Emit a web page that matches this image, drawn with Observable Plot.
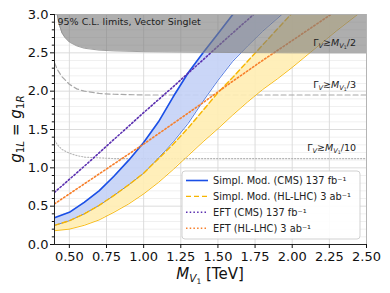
<!DOCTYPE html>
<html><head><meta charset="utf-8">
<script src="https://cdn.jsdelivr.net/npm/d3@7"></script>
<script src="https://cdn.jsdelivr.net/npm/@observablehq/plot@0.6"></script>
<style>
html,body{margin:0;padding:0;background:#fff;}
#chart{width:390px;height:293px;}
svg{font-family:"DejaVu Sans",sans-serif;}
</style></head><body><div id="chart"></div>
<script>
// ---- ticks ----
const xTicks = [0.5, 0.75, 1.0, 1.25, 1.5, 1.75, 2.0, 2.25, 2.5];
const yTicks = [0, 0.5, 1.0, 1.5, 2.0, 2.5, 3.0];
const yMinor = [0.1,0.2,0.3,0.4,0.6,0.7,0.8,0.9,1.1,1.2,1.3,1.4,1.6,1.7,1.8,1.9,2.1,2.2,2.3,2.4,2.6,2.7,2.8,2.9];

// ---- Simplified model CMS 137 fb^-1 band (blue) ----
const blueX     = [0.4, 0.5, 0.6, 0.7, 0.8, 0.9, 1.0, 1.1, 1.2, 1.3, 1.4, 1.5, 1.6, 1.7, 1.8, 1.93];
const blueUpper = [0.35,0.42,0.55,0.70,0.89,1.10,1.33,1.60,1.93,2.24,2.50,2.75,3.00,3.24,3.48,3.80];
const blueLower = [0.25,0.31,0.40,0.51,0.64,0.78,0.93,1.13,1.34,1.58,1.87,2.14,2.39,2.59,2.78,3.00];

// ---- Simplified model HL-LHC 3 ab^-1 band (yellow) ----
const yelX     = [0.4, 0.5, 0.6, 0.7, 0.8, 0.9, 1.0, 1.1, 1.2, 1.3, 1.4, 1.5, 1.6, 1.7, 1.8, 1.9, 2.0, 2.1, 2.2, 2.3, 2.44];
const yelUpper = [0.25,0.31,0.40,0.51,0.64,0.78,0.93,1.12,1.31,1.52,1.75,1.98,2.18,2.39,2.60,2.81,3.02,3.23,3.44,3.65,3.94];
const yelLower = [0.18,0.20,0.25,0.32,0.42,0.53,0.66,0.81,0.98,1.16,1.34,1.51,1.69,1.86,2.02,2.16,2.31,2.47,2.63,2.79,3.00];

// ---- EFT lines ----
const eftCmsX = [0.4, 0.6, 0.8, 1.0, 1.2, 1.4, 1.6, 1.74];
const eftCmsY = [0.68,1.02,1.37,1.72,2.06,2.41,2.76,3.00];
const eftHlX  = [0.4, 0.6, 0.8, 1.0, 1.2, 1.4, 1.6, 1.8, 2.0, 2.26];
const eftHlY  = [0.53,0.79,1.05,1.31,1.58,1.85,2.13,2.40,2.66,3.00];

// ---- width contours ----
const gamma2X = [0.418,0.43,0.45,0.47,0.5,0.55,0.6,0.7,0.8,1.0,1.5,2.0,2.5];
const gamma2Y = [3.0,2.88,2.76,2.70,2.64,2.59,2.56,2.535,2.525,2.515,2.505,2.5,2.5];
const gamma3X = [0.4,0.42,0.45,0.5,0.55,0.6,0.7,0.8,1.0,1.5,2.5];
const gamma3Y = [2.37,2.28,2.19,2.09,2.03,2.00,1.97,1.96,1.95,1.95,1.95];
const gamma10X = [0.4,0.42,0.45,0.5,0.55,0.6,0.7,0.8,1.0,2.5];
const gamma10Y = [1.36,1.30,1.24,1.19,1.16,1.14,1.13,1.12,1.12,1.12];
const gammaLabelDen = ["2", "3", "10"];
const gammaLabelY = [2.63, 2.08, 1.26];
const gammaLabelX = 2.43;

const titleText = "95% C.L. limits, Vector Singlet";
const legendLabels = ["Simpl. Mod. (CMS) 137 fb\u207B\u00B9", "Simpl. Mod. (HL-LHC) 3 ab\u207B\u00B9", "EFT (CMS) 137 fb\u207B\u00B9", "EFT (HL-LHC) 3 ab\u207B\u00B9"];

// colours
const cBlue = "#1a4fe6", cBlueThin = "#4670e0", cBlueFill = "#c4d1f6";
const cYel = "#f7b500", cYelFill = "#ffedb3";
const cPurple = "#5a2fb0", cOrange = "#f77f2a";
const legendStyles = [
  {stroke: cBlue, dash: null, w: 1.6},
  {stroke: cYel, dash: "5,3", w: 1.4},
  {stroke: cPurple, dash: "1.5,2.2", w: 1.6},
  {stroke: cOrange, dash: "1.5,2.2", w: 1.6}
];

const zip = (xs, ...cols) => xs.map((x, i) => ({x, a: cols[0][i], b: cols[1] ? cols[1][i] : undefined}));
const blue = zip(blueX, blueLower, blueUpper);
const yel = zip(yelX, yelLower, yelUpper);
const eftC = zip(eftCmsX, eftCmsY);
const eftH = zip(eftHlX, eftHlY);
const g2 = zip(gamma2X, gamma2Y);
const g3 = zip(gamma3X, gamma3Y);
const g10 = zip(gamma10X, gamma10Y);
const gLabels = gammaLabelDen.map((d, i) => ({d, y: gammaLabelY[i], t: "\u0393V\u2273MV1/" + d}));

const plot = Plot.plot({
  width: 390, height: 293,
  marginLeft: 54, marginRight: 24, marginTop: 14, marginBottom: 49,
  style: {fontFamily: "DejaVu Sans, sans-serif", fontSize: "13px", color: "#111", background: "#fff", overflow: "visible"},
  x: {domain: [0.4, 2.5]},
  y: {domain: [0, 3]},
  marks: [
    Plot.gridY(yMinor, {stroke: "#ececec", strokeOpacity: 1, strokeWidth: 0.8}),
    Plot.gridY(yTicks, {stroke: "#d8d8d8", strokeOpacity: 1, strokeWidth: 0.9}),
    Plot.gridX(xTicks, {stroke: "#d8d8d8", strokeOpacity: 1, strokeWidth: 0.9}),
    Plot.line(g3, {x: "x", y: "a", stroke: "#a8a8a8", strokeWidth: 1.2, strokeDasharray: "5,3", clip: true}),
    Plot.line(g10, {x: "x", y: "a", stroke: "#b5b5b5", strokeWidth: 1.1, strokeDasharray: "1.2,1.8", clip: true}),
    Plot.areaY(yel, {x: "x", y1: "a", y2: "b", fill: cYelFill, fillOpacity: 0.9, clip: true}),
    Plot.areaY(blue, {x: "x", y1: "a", y2: "b", fill: cBlueFill, fillOpacity: 0.9, clip: true}),
    Plot.line(yel, {x: "x", y: "a", stroke: cYel, strokeWidth: 0.9, clip: true}),
    Plot.line(blue, {x: "x", y: "a", stroke: cBlueThin, strokeWidth: 0.9, clip: true}),
    Plot.line(yel, {x: "x", y: "b", stroke: cYel, strokeWidth: 1.4, strokeDasharray: "5,3", clip: true}),
    Plot.line(blue, {x: "x", y: "b", stroke: cBlue, strokeWidth: 1.6, clip: true}),
    Plot.line(eftC, {x: "x", y: "a", stroke: cPurple, strokeWidth: 1.6, strokeDasharray: "1.5,2.2", clip: true}),
    Plot.line(eftH, {x: "x", y: "a", stroke: cOrange, strokeWidth: 1.6, strokeDasharray: "1.5,2.2", clip: true}),
    Plot.areaY(g2, {x: "x", y1: "a", y2: 3, fill: "#7c7c7c", fillOpacity: 0.62, clip: true}),
    Plot.line(g2, {x: "x", y: "a", stroke: "#8a8a8a", strokeWidth: 0.8, clip: true}),
    Plot.text(gLabels, {x: gammaLabelX, y: "y", text: "t", textAnchor: "end", fontSize: 9.5, fill: "#222"}),
    Plot.text([titleText], {frameAnchor: "top-left", dx: 3, dy: 4, fontSize: 9.5, fill: "#222"}),
    Plot.frame({stroke: "#b0b0b0", strokeWidth: 0.9}),
    Plot.ruleX([0.4], {stroke: "#222", strokeWidth: 1}),
    Plot.ruleY([0], {stroke: "#222", strokeWidth: 1}),
    Plot.axisX(xTicks, {tickFormat: d => d.toFixed(2), tickSize: 4, tickPadding: 3, label: null, fontSize: 13, fill: "#111"}),
    Plot.axisY(yTicks, {tickFormat: d => d.toFixed(1), tickSize: 4, tickPadding: 2, label: null, fontSize: 13, fill: "#111"}),
    Plot.axisY(yMinor, {tickSize: 2.2, text: null, label: null})
  ]
});
document.getElementById("chart").appendChild(plot);

const svgns = "http://www.w3.org/2000/svg";
function rich(el, parts, size) {
  while (el.firstChild) el.removeChild(el.firstChild);
  const shift = [0, 0.22 * size, 0.36 * size];
  const fs = [size, size * 0.7, size * 0.5];
  let cur = 0;
  for (const [t, lvl, it] of parts) {
    const ts = document.createElementNS(svgns, "tspan");
    ts.textContent = t;
    ts.setAttribute("font-size", fs[lvl]);
    const dy = shift[lvl] - cur;
    if (dy) ts.setAttribute("dy", dy);
    cur = shift[lvl];
    if (it) ts.setAttribute("font-style", "italic");
    el.appendChild(ts);
  }
}
const svg = d3.select(plot);
// Gamma labels -> rich text
svg.selectAll("text").each(function () {
  const s = this.textContent;
  const m = s.match(/^\u0393V\u2273MV1\/(\d+)$/);
  if (m) rich(this, [["\u0393", 0], ["V", 1, true], ["\u2273", 0], ["M", 0, true], ["V", 1, true], ["1", 2], ["/" + m[1], 0]], 9.5);
});
// axis labels
const xl = svg.append("text").attr("x", 210).attr("y", 279).attr("text-anchor", "middle").attr("fill", "#111").node();
rich(xl, [["M", 0, true], ["V", 1, true], ["1", 2], [" [TeV]", 0]], 15);
const yl = svg.append("text").attr("transform", "translate(21,129) rotate(-90)").attr("text-anchor", "middle").attr("fill", "#111").node();
rich(yl, [["g", 0, true], ["1", 1], ["L", 1, true], [" = ", 0], ["g", 0, true], ["1", 1], ["R", 1, true]], 15);

// legend
const lg = svg.append("g").attr("text-anchor", "start");
lg.append("rect").attr("x", 182).attr("y", 171).attr("width", 178).attr("height", 68).attr("rx", 3)
  .style("fill", "#ffffff").style("fill-opacity", 0.9).style("stroke", "#cccccc").style("stroke-width", 0.9);
legendLabels.forEach((lab, i) => {
  const yy = 180.5 + i * 15.9;
  const st = legendStyles[i];
  const ln = lg.append("line").attr("x1", 186).attr("x2", 208).attr("y1", yy).attr("y2", yy)
    .style("stroke", st.stroke).style("stroke-width", st.w);
  if (st.dash) ln.style("stroke-dasharray", st.dash);
  lg.append("text").attr("x", 213).attr("y", yy).attr("dy", "0.35em").attr("text-anchor", "start")
    .attr("font-size", 9.8).style("fill", "#222").text(lab);
});
</script></body></html>
